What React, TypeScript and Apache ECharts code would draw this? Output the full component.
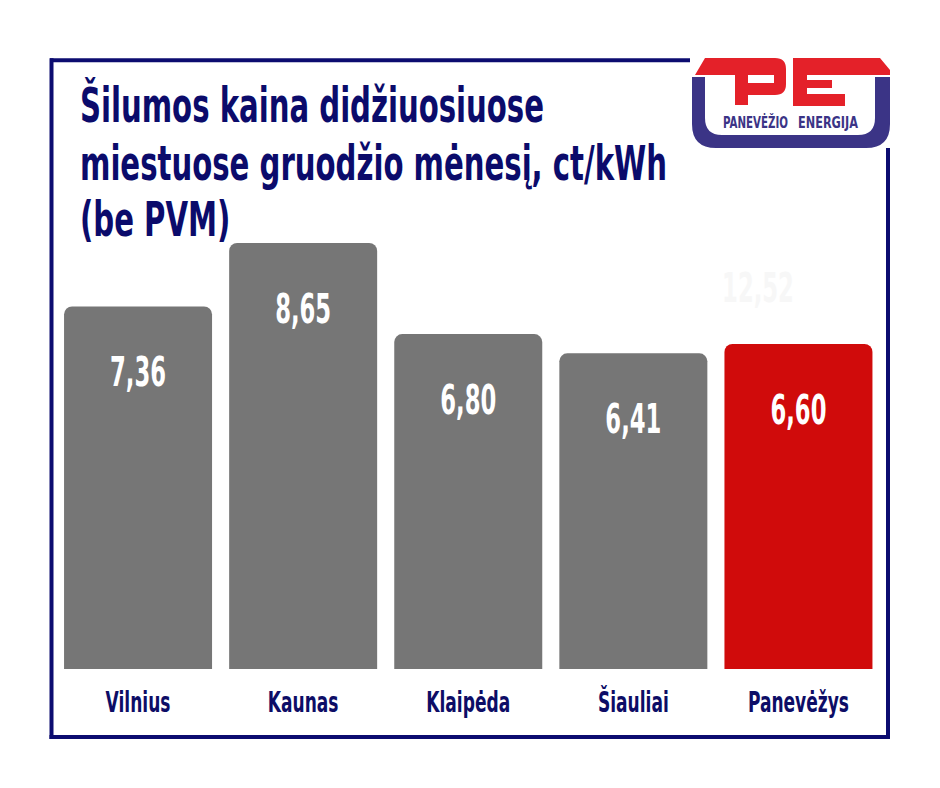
import React, { useEffect, useRef } from "react";
import * as echarts from "echarts";

const categories = ["Vilnius", "Kaunas", "Klaipėda", "Šiauliai", "Panevėžys"];
const values = [7.36, 8.65, 6.8, 6.41, 6.6];
const barColors = ["#767676", "#767676", "#767676", "#767676", "#d00b0b"];
const titleLines = [
  "Šilumos kaina didžiuosiuose",
  "miestuose gruodžio mėnesį, ct/kWh",
  "(be PVM)",
];
const logoWords = ["PANEVĖŽIO", "ENERGIJA"];
const ghostLabel = "12,52";

const FF = "'Liberation Sans Narrow', 'DejaVu Sans Condensed', 'Arial Narrow', sans-serif";
const NAVY = "#0b0b6b";
const LOGO_NAVY = "#3b3486";
const LOGO_RED = "#e42129";

const P_PATH =
  "M695 75 L705 58 L775 58 Q786 58 786 69 L786 84 Q786 95 775 95 L748 95 L748 105 L735 105 L735 75 Z M748 75 L748 83 L774 83 L774 75 Z";
const E_PATH =
  "M793 58 L880 58 L890 70 L890 75 L807 75 L807 80 L832 80 L832 88 L807 88 L807 94 L845 94 L845 106 L793 106 Z";
const U_PATH =
  "M692 77 L705 77 L705 118 Q705 135 722 135 L858 135 Q875 135 875 118 L875 77 L890 77 L890 124 Q890 148 866 148 L716 148 Q692 148 692 124 Z";

let registered = false;
function registerShapes() {
  if (registered) return;
  registered = true;
  echarts.graphic.registerShape("logoP", echarts.graphic.extendPath(P_PATH, {}));
  echarts.graphic.registerShape("logoE", echarts.graphic.extendPath(E_PATH, {}));
  echarts.graphic.registerShape("logoU", echarts.graphic.extendPath(U_PATH, {}));
}

function measure(text: string, font: string): number {
  const c = document.createElement("canvas").getContext("2d");
  if (!c) return text.length * 20;
  c.font = font;
  return c.measureText(text).width;
}

const fmt = (v: number) => Number(v).toFixed(2).replace(".", ",");

export default function App() {
  const ref = useRef<HTMLDivElement>(null);

  useEffect(() => {
    document.body.style.margin = "0";
    registerShapes();
    if (!ref.current) return;
    const chart = echarts.init(ref.current, null, { renderer: "svg" });

    const titleSize = 43;
    const titleFont = `bold ${titleSize}px ${FF}`;
    const titleScale = 587 / measure(titleLines[1], titleFont);
    const titleScaleY = 1.1;
    const titleBaselines = [122, 180, 236];
    const titleY = titleBaselines.map((b) => b - 0.346 * titleSize * titleScaleY);

    const logoSize = 15;
    const logoFont = `bold ${logoSize}px ${FF}`;
    const logoTargets = [
      [723, 65],
      [798, 60],
    ];

    const valSize = 40;
    const valScale = 56 / measure("7,36", `bold ${valSize}px ${FF}`);
    const catSize = 27.5;
    const catScale = 84 / measure("Klaipėda", `bold ${catSize}px ${FF}`);

    const graphic: any[] = [
      // frame
      { type: "line", shape: { x1: 50, y1: 60.3, x2: 690, y2: 60.3 }, style: { stroke: "#0c0c70", lineWidth: 4 } },
      { type: "line", shape: { x1: 51.5, y1: 58.3, x2: 51.5, y2: 739 }, style: { stroke: "#0c0c70", lineWidth: 4 } },
      { type: "line", shape: { x1: 49.5, y1: 737, x2: 890, y2: 737 }, style: { stroke: "#0c0c70", lineWidth: 4 } },
      { type: "line", shape: { x1: 888, y1: 148, x2: 888, y2: 739 }, style: { stroke: "#0c0c70", lineWidth: 4 } },
      // logo
      { type: "logoU", x: 0, y: 0, style: { fill: LOGO_NAVY } },
      { type: "logoP", x: 0, y: 0, style: { fill: LOGO_RED } },
      { type: "logoE", x: 0, y: 0, style: { fill: LOGO_RED } },
      ...logoWords.map((w, i) => ({
        type: "text",
        x: logoTargets[i][0],
        y: 122.8,
        scaleX: logoTargets[i][1] / measure(w, logoFont),
        style: {
          text: w,
          fontSize: logoSize,
          fontWeight: "bold",
          fontFamily: FF,
          fill: LOGO_NAVY,
          textAlign: "left",
          textVerticalAlign: "middle",
        },
      })),
      // title
      ...titleLines.map((t, i) => ({
        type: "text",
        x: 80,
        y: titleY[i],
        scaleX: titleScale,
        scaleY: titleScaleY,
        style: {
          text: t,
          fontSize: titleSize,
          fontWeight: "bold",
          fontFamily: FF,
          fill: NAVY,
          textAlign: "left",
          textVerticalAlign: "middle",
        },
      })),
      {
        type: "text",
        x: 758,
        y: 288,
        scaleX: valScale,
        style: {
          text: ghostLabel,
          fontSize: valSize,
          fontWeight: "bold",
          fontFamily: FF,
          fill: "#f7f7f7",
          textAlign: "center",
          textVerticalAlign: "middle",
        },
      },
    ];

    const option: any = {
      animation: false,
      backgroundColor: "#ffffff",
      grid: { left: 55.5, right: 59, top: 176.5, bottom: 119, containLabel: false },
      xAxis: {
        type: "category",
        data: categories,
        axisLine: { show: false },
        axisTick: { show: false },
        axisLabel: { show: false },
      },
      yAxis: {
        type: "value",
        min: 0,
        max: 10,
        show: false,
        splitLine: { show: false },
      },
      series: [
        {
          type: "bar",
          barWidth: 148,
          data: values.map((v, i) => ({
            value: v,
            itemStyle: { color: barColors[i], borderRadius: [8, 8, 0, 0] },
          })),
        },
        {
          type: "custom",
          z: 5,
          data: values.map((v, i) => [i, v]),
          renderItem: (params: any, api: any) => {
            const idx = api.value(0);
            const v = api.value(1);
            const top = api.coord([idx, v]);
            const base = api.coord([idx, 0]);
            return {
              type: "group",
              children: [
                {
                  type: "text",
                  x: top[0],
                  y: top[1] + 66,
                  scaleX: valScale,
                  style: {
                    text: fmt(v),
                    fontSize: valSize,
                    fontWeight: "bold",
                    fontFamily: FF,
                    fill: "#ffffff",
                    textAlign: "center",
                    textVerticalAlign: "middle",
                  },
                },
                {
                  type: "text",
                  x: base[0],
                  y: base[1] + 33.5,
                  scaleX: catScale,
                  style: {
                    text: categories[idx],
                    fontSize: catSize,
                    fontWeight: "bold",
                    fontFamily: FF,
                    fill: "#0d0d66",
                    textAlign: "center",
                    textVerticalAlign: "middle",
                  },
                },
              ],
            };
          },
        },
      ],
      graphic,
    };
    chart.setOption(option);
    return () => chart.dispose();
  }, []);

  return <div ref={ref} style={{ width: 940, height: 788, position: "absolute", left: 0, top: 0 }} />;
}
